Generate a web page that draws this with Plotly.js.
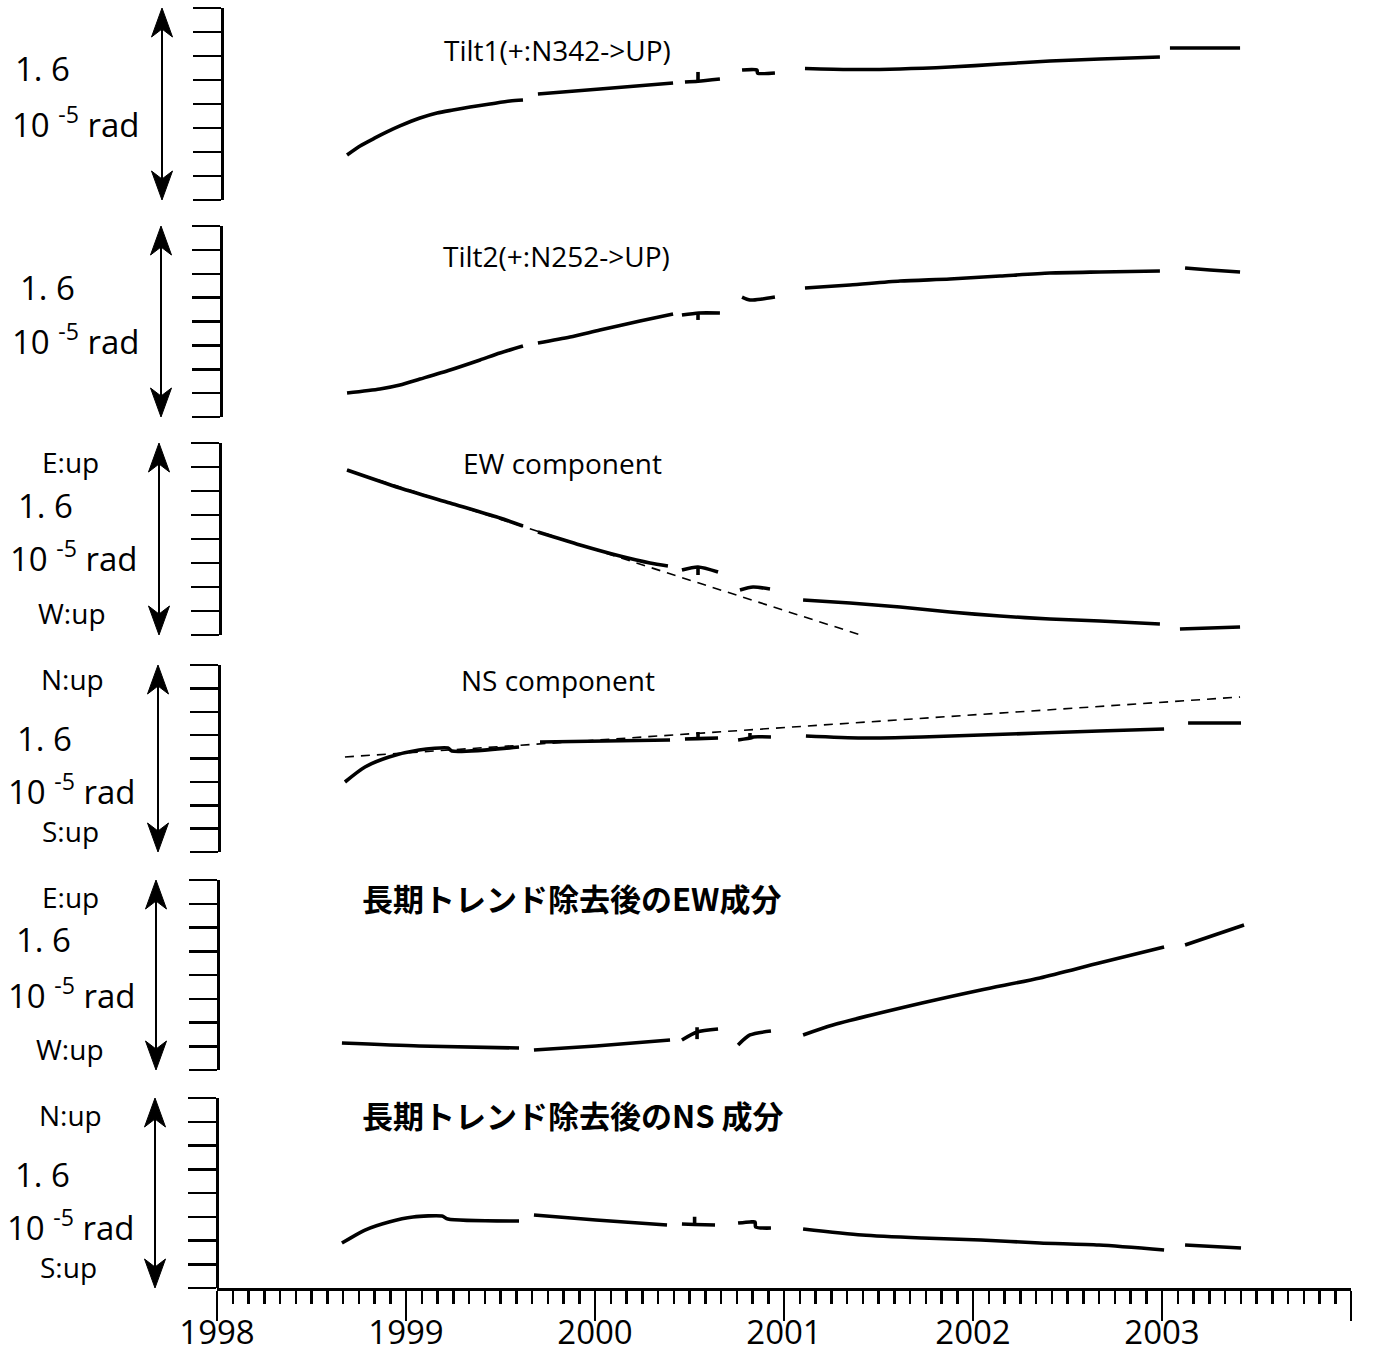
<!DOCTYPE html>
<html>
<head>
<meta charset="utf-8">
<script src="https://cdn.plot.ly/plotly-3.0.1.min.js"></script>
<style>html,body{margin:0;padding:0;background:#fff;}#chart{width:1396px;height:1353px;}</style>
</head>
<body>
<div id="chart"></div>
<script>
// ---------------- DATA (units: 1e-5 rad within each 1.6e-5 rad panel; time: decimal year) ----------------
const yearTicks = [1998, 1999, 2000, 2001, 2002, 2003, 2004];
const yearLabels = ['1998', '1999', '2000', '2001', '2002', '2003', ' '];

const tilt1Time = [1998.688, 1998.757, 1998.836, 1998.899, 1998.968, 1999.074, 1999.164, 1999.249, 1999.339, 1999.444, 1999.550, 1999.619, null,
  1999.698, 2000.026, 2000.413, null,
  2000.476, 2000.545, 2000.661, null,
  2000.545, 2000.545, null,
  2000.778, 2000.857, 2000.860, 2000.952, null,
  2001.111, 2001.349, 2001.614, 2001.878, 2002.143, 2002.407, 2002.672, 2002.989, null,
  2003.042, 2003.413];
const tilt1Value = [0.375, 0.45, 0.517, 0.567, 0.617, 0.683, 0.725, 0.75, 0.775, 0.80, 0.825, 0.833, null,
  0.883, 0.925, 0.975, null,
  0.983, 0.99, 1.008, null,
  0.99, 1.067, null,
  1.083, 1.083, 1.058, 1.058, null,
  1.096, 1.088, 1.092, 1.108, 1.133, 1.158, 1.175, 1.192, null,
  1.267, 1.267];

const tilt2Time = [1998.688, 1998.862, 1998.968, 1999.074, 1999.233, 1999.392, 1999.497, 1999.619, null,
  1999.698, 1999.868, 2000.026, 2000.238, 2000.413, null,
  2000.460, 2000.550, 2000.661, null,
  2000.545, 2000.545, null,
  2000.778, 2000.820, 2000.884, 2000.952, null,
  2001.111, 2001.349, 2001.614, 2001.878, 2002.143, 2002.407, 2002.672, 2002.989, null,
  2003.122, 2003.254, 2003.413];
const tilt2Value = [0.201, 0.235, 0.268, 0.318, 0.394, 0.478, 0.536, 0.595, null,
  0.620, 0.670, 0.729, 0.804, 0.863, null,
  0.854, 0.871, 0.871, null,
  0.870, 0.813, null,
  1.005, 0.980, 0.988, 1.005, null,
  1.081, 1.106, 1.139, 1.156, 1.181, 1.206, 1.215, 1.223, null,
  1.248, 1.231, 1.215];

const ewTime = [1998.688, 1998.968, 1999.233, 1999.497, 1999.619, null,
  1999.698, 1999.921, 2000.132, 2000.291, 2000.386, null,
  2000.460, 2000.545, 2000.651, null,
  2000.545, 2000.545, null,
  2000.767, 2000.836, 2000.926, null,
  2001.101, 2001.349, 2001.614, 2001.878, 2002.143, 2002.407, 2002.672, 2002.989, null,
  2003.095, 2003.413];
const ewValue = [1.375, 1.225, 1.10, 0.975, 0.908, null,
  0.858, 0.75, 0.658, 0.60, 0.575, null,
  0.542, 0.567, 0.525, null,
  0.567, 0.50, null,
  0.375, 0.40, 0.383, null,
  0.292, 0.267, 0.233, 0.192, 0.158, 0.133, 0.117, 0.092, null,
  0.05, 0.067];
const ewTrendTime = [1998.688, 2001.455];
const ewTrendValue = [1.375, -0.025];

const nsTime = [1998.677, 1998.783, 1998.910, 1999.069, 1999.222, 1999.243, 1999.598, null,
  1999.709, 2000.397, null,
  2000.476, 2000.545, 2000.651, null,
  2000.545, 2000.545, null,
  2000.757, 2000.830, 2000.835, 2000.931, null,
  2000.820, 2000.820, null,
  2001.116, 2001.413, 2001.730, 2002.042, 2002.354, 2002.667, 2003.011, null,
  2003.138, 2003.418];
const nsValue = [0.599, 0.727, 0.813, 0.873, 0.890, 0.864, 0.898, null,
  0.941, 0.958, null,
  0.967, 0.970, 0.975, null,
  0.970, 1.027, null,
  0.958, 0.978, 0.984, 0.984, null,
  0.975, 1.018, null,
  0.992, 0.975, 0.984, 1.001, 1.018, 1.035, 1.052, null,
  1.104, 1.104];
const nsTrendTime = [1998.677, 2003.413];
const nsTrendValue = [0.813, 1.326];

const ewDetrTime = [1998.661, 1999.069, 1999.598, null,
  1999.677, 2000.005, 2000.397, null,
  2000.460, 2000.540, 2000.651, null,
  2000.540, 2000.540, null,
  2000.757, 2000.820, 2000.931, null,
  2001.101, 2001.259, 2001.730, 2002.042, 2002.354, 2002.667, 2003.011, null,
  2003.122, 2003.434];
const ewDetrValue = [0.227, 0.202, 0.185, null,
  0.168, 0.202, 0.253, null,
  0.253, 0.32, 0.345, null,
  0.26, 0.36, null,
  0.211, 0.295, 0.328, null,
  0.295, 0.379, 0.564, 0.674, 0.775, 0.901, 1.036, null,
  1.053, 1.221];

const nsDetrTime = [1998.661, 1998.783, 1998.910, 1999.037, 1999.190, 1999.222, 1999.598, null,
  1999.677, 2000.005, 2000.381, null,
  2000.460, 2000.527, 2000.635, null,
  2000.527, 2000.527, null,
  2000.757, 2000.820, 2000.847, 2000.850, 2000.931, null,
  2001.101, 2001.413, 2001.730, 2002.042, 2002.354, 2002.667, 2003.011, null,
  2003.122, 2003.418];
const nsDetrValue = [0.379, 0.488, 0.556, 0.598, 0.606, 0.581, 0.564, null,
  0.615, 0.573, 0.531, null,
  0.539, 0.535, 0.531, null,
  0.535, 0.60, null,
  0.547, 0.556, 0.556, 0.514, 0.505, null,
  0.497, 0.446, 0.421, 0.404, 0.379, 0.362, 0.320, null,
  0.362, 0.337];

const panelTitles = ['Tilt1(+:N342->UP)', 'Tilt2(+:N252->UP)', 'EW component', 'NS component',
  '長期トレンド除去後のEW成分', '長期トレンド除去後のNS 成分'];
const upLabels = ['', '', 'E:up', 'N:up', 'E:up', 'N:up'];
const downLabels = ['', '', 'W:up', 'S:up', 'W:up', 'S:up'];
const scaleLabel = '1. 6';
const unitLabel = '10 <sup>-5</sup> rad';
const yTickVals = [0, 0.2, 0.4, 0.6, 0.8, 1.0, 1.2, 1.4, 1.6];

// ---------------- LAYOUT GEOMETRY (pixels) ----------------
const W = 1396, H = 1353;
const px = x => x / W;
const py = y => 1 - y / H;
const FONT = '"Open Sans", "Noto Sans", "DejaVu Sans", sans-serif';
const CJK = '"Noto Sans CJK JP", "Noto Sans CJK SC", sans-serif';

const geo = [
  {top: 8, bot: 200, lx: 222, rtop: 13, rbot: 207, rx: 1356, ax: 162, title: [557, 50], s: [42, 68], u: [76, 122], up: null, dn: null},
  {top: 226, bot: 417, lx: 221, rtop: 233, rbot: 423, rx: 1355, ax: 161, title: [556, 256], s: [47, 287], u: [76, 340], up: null, dn: null},
  {top: 443, bot: 635, lx: 220, rtop: 449, rbot: 640, rx: 1354, ax: 159, title: [562, 463], s: [45, 505], u: [74, 557], up: [70, 462], dn: [72, 613]},
  {top: 665, bot: 852, lx: 219, rtop: 667, rbot: 858, rx: 1354, ax: 158, title: [558, 680], s: [44, 738], u: [72, 789], up: [72, 679], dn: [70, 831]},
  {top: 880, bot: 1070, lx: 218, rtop: 890, rbot: 1075, rx: 1353, ax: 156, title: [571, 897], s: [43, 940], u: [72, 993], up: [70, 897], dn: [70, 1049]},
  {top: 1098, bot: 1288, lx: 217, rtop: 1103, rbot: 1295, rx: 1352, ax: 155, title: [573, 1114], s: [42, 1174], u: [71, 1225], up: [70, 1115], dn: [68, 1267]}
];

const series = [
  [tilt1Time, tilt1Value], [tilt2Time, tilt2Value], [ewTime, ewValue],
  [nsTime, nsValue], [ewDetrTime, ewDetrValue], [nsDetrTime, nsDetrValue]
];
const trends = [[2, ewTrendTime, ewTrendValue], [3, nsTrendTime, nsTrendValue]];

const yName = i => i === 0 ? 'y' : 'y' + (i + 1);
const yKey = i => i === 0 ? 'yaxis' : 'yaxis' + (i + 1);

const traces = [];
series.forEach((s, i) => {
  traces.push({x: s[0], y: s[1], xaxis: 'x', yaxis: yName(i), type: 'scatter', mode: 'lines',
    connectgaps: false, line: {color: '#000', width: 3.6, shape: 'spline', smoothing: 0.7},
    hoverinfo: 'skip', showlegend: false});
});
trends.forEach(t => {
  traces.push({x: t[1], y: t[2], xaxis: 'x', yaxis: yName(t[0]), type: 'scatter', mode: 'lines',
    line: {color: '#000', width: 1.6, dash: '9px,7px'}, hoverinfo: 'skip', showlegend: false});
});

const layout = {
  width: W, height: H,
  margin: {l: 0, r: 0, t: 0, b: 0, pad: 0},
  paper_bgcolor: '#fff', plot_bgcolor: 'rgba(0,0,0,0)',
  showlegend: false,
  font: {family: FONT, color: '#000'},
  xaxis: {
    domain: [px(217), px(1351)], range: [1998, 2004], anchor: 'y6',
    showline: true, linecolor: '#000', linewidth: 2.5, showgrid: false, zeroline: false,
    ticks: 'outside', ticklen: 30, tickwidth: 2.5, tickcolor: '#000',
    tickmode: 'array', tickvals: yearTicks, ticktext: yearLabels,
    ticklabelstandoff: -16,
    tickfont: {family: FONT, size: 33, color: '#000'},
    minor: {tick0: 1998, dtick: 1 / 12, ticks: 'outside', ticklen: 13, tickwidth: 2.5, tickcolor: '#000', showgrid: false}
  },
  annotations: [],
  shapes: []
};

geo.forEach((g, i) => {
  layout[yKey(i)] = {
    domain: [py(g.bot), py(g.top)], range: [0, 1.6], anchor: 'free', position: px(g.lx), side: 'left',
    showline: true, linecolor: '#000', linewidth: 2.5, showgrid: false, zeroline: false,
    ticks: 'outside', ticklen: 28, tickwidth: 2.5, tickcolor: '#000',
    tickmode: 'array', tickvals: yTickVals, showticklabels: false, fixedrange: true
  };
  layout['yaxis' + (i + 7)] = {
    domain: [py(g.rbot), py(g.rtop)], range: [0, 1.6], anchor: 'free', position: px(g.rx), side: 'right',
    showline: true, linecolor: '#000', linewidth: 2.5, showgrid: false, zeroline: false,
    ticks: 'outside', ticklen: 27, tickwidth: 2.5, tickcolor: '#000',
    tickmode: 'array', tickvals: yTickVals, showticklabels: false, fixedrange: true
  };

  const isCJK = i >= 4;
  layout.annotations.push({
    xref: 'paper', yref: 'paper', x: px(g.title[0]), y: py(g.title[1]), xanchor: 'center', yanchor: 'middle',
    text: isCJK ? '<b>' + panelTitles[i] + '</b>' : panelTitles[i], showarrow: false,
    font: isCJK ? {family: CJK, size: 31, color: '#000'} : {family: FONT, size: 28, color: '#000'}
  });
  layout.annotations.push({xref: 'paper', yref: 'paper', x: px(g.s[0]), y: py(g.s[1]), xanchor: 'center', yanchor: 'middle',
    text: scaleLabel, showarrow: false, font: {family: FONT, size: 33, color: '#000'}});
  layout.annotations.push({xref: 'paper', yref: 'paper', x: px(g.u[0]), y: py(g.u[1]), xanchor: 'center', yanchor: 'middle',
    text: unitLabel, showarrow: false, font: {family: FONT, size: 33, color: '#000'}});
  if (g.up) layout.annotations.push({xref: 'paper', yref: 'paper', x: px(g.up[0]), y: py(g.up[1]), xanchor: 'center', yanchor: 'middle',
    text: upLabels[i], showarrow: false, font: {family: FONT, size: 28, color: '#000'}});
  if (g.dn) layout.annotations.push({xref: 'paper', yref: 'paper', x: px(g.dn[0]), y: py(g.dn[1]), xanchor: 'center', yanchor: 'middle',
    text: downLabels[i], showarrow: false, font: {family: FONT, size: 28, color: '#000'}});

  // double-headed scale arrow
  const cx = g.ax, t = g.top, b = g.bot, hl = 29, hw = 10.5, nd = 21;
  layout.shapes.push({type: 'line', xref: 'paper', yref: 'paper', x0: px(cx), x1: px(cx), y0: py(t + nd), y1: py(b - nd),
    line: {color: '#000', width: 2}});
  const head = (tipY, dir) => 'M' + px(cx) + ',' + py(tipY) +
    ' L' + px(cx - hw) + ',' + py(tipY + dir * hl) +
    ' L' + px(cx) + ',' + py(tipY + dir * nd) +
    ' L' + px(cx + hw) + ',' + py(tipY + dir * hl) + ' Z';
  layout.shapes.push({type: 'path', xref: 'paper', yref: 'paper', path: head(t, 1), fillcolor: '#000', line: {color: '#000', width: 1}});
  layout.shapes.push({type: 'path', xref: 'paper', yref: 'paper', path: head(b, -1), fillcolor: '#000', line: {color: '#000', width: 1}});
});

Plotly.newPlot('chart', traces, layout, {staticPlot: true, displayModeBar: false});
</script>
</body>
</html>
